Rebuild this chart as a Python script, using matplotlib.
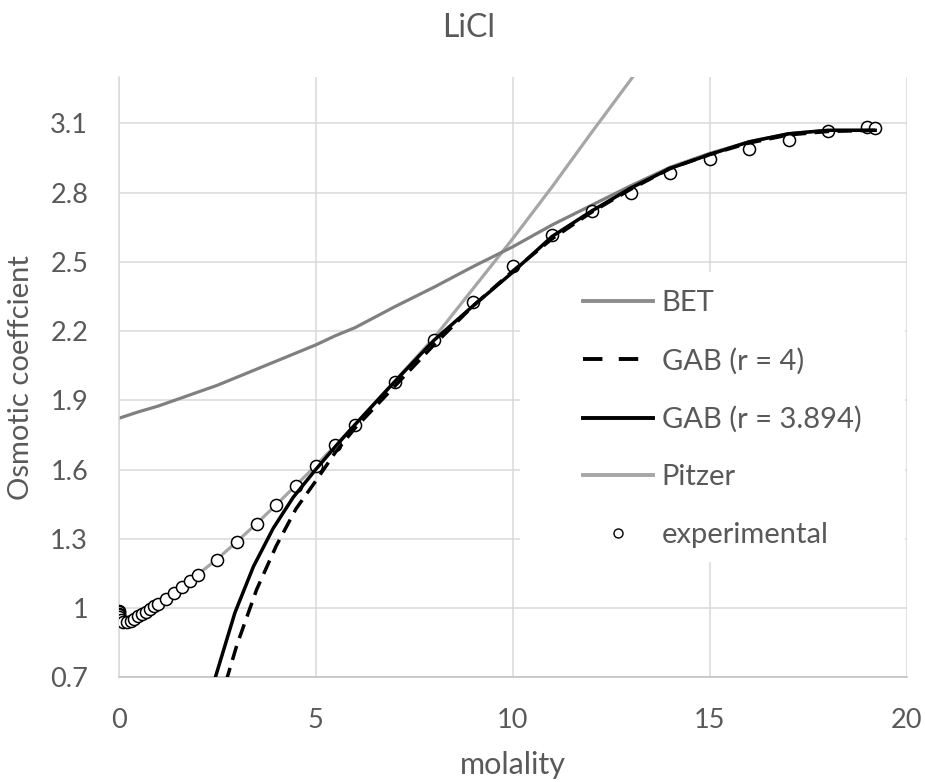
import matplotlib
matplotlib.use("Agg")
import matplotlib.pyplot as plt
from matplotlib.lines import Line2D
from matplotlib.patches import Rectangle

plt.rcParams['font.family'] = ['Lato', 'DejaVu Sans']

TEXT = '#595959'

# experimental osmotic coefficients of LiCl
exp_m = [0.001, 0.002, 0.005, 0.01, 0.02, 0.05, 0.1, 0.2, 0.3, 0.4, 0.5, 0.6, 0.7, 0.8, 0.9, 1.0,
         1.2, 1.4, 1.6, 1.8, 2.0, 2.5, 3.0, 3.5, 4.0, 4.5, 5.0, 5.5, 6.0, 7.0, 8.0, 9.0, 10.0,
         11.0, 12.0, 13.0, 14.0, 15.0, 16.0, 17.0, 18.0, 19.0, 19.2]
exp_phi = [0.988, 0.984, 0.976, 0.968, 0.960, 0.948, 0.940, 0.939, 0.945, 0.954, 0.964, 0.973, 0.984,
           0.995, 1.008, 1.018, 1.041, 1.066, 1.091, 1.117, 1.143, 1.210, 1.286, 1.366, 1.448, 1.530,
           1.615, 1.705, 1.793, 1.980, 2.160, 2.327, 2.480, 2.615, 2.720, 2.800, 2.885, 2.945, 2.990,
           3.030, 3.065, 3.085, 3.078]

# BET model
bet_m = [0, 0.5, 1, 1.5, 2, 2.5, 3, 3.5, 4, 4.5, 5, 5.5, 6, 7, 8, 9, 10, 11, 12, 13, 14, 15, 16, 17, 18, 19.2]
bet_phi = [1.822, 1.85, 1.875, 1.905, 1.935, 1.965, 2.0, 2.035, 2.07, 2.105, 2.14, 2.18, 2.215, 2.305,
           2.39, 2.48, 2.565, 2.66, 2.745, 2.83, 2.91, 2.97, 3.02, 3.055, 3.07, 3.07]

# GAB, r = 4
gab4_m = [2.72, 3.0, 3.5, 4.0, 4.5, 5.0, 5.5, 6.0, 7.0, 8.0, 9.0, 10.0, 11.0, 12.0, 13.0, 14.0, 15.0,
          16.0, 17.0, 18.0, 19.2]
gab4_phi = [0.68, 0.84, 1.08, 1.27, 1.43, 1.55, 1.675, 1.78, 1.96, 2.14, 2.31, 2.46, 2.60, 2.715, 2.815,
            2.905, 2.965, 3.015, 3.05, 3.065, 3.07]

# GAB, r = 3.894
gab_m = [2.4, 2.95, 3.42, 3.92, 4.43, 5.0, 5.5, 6.0, 7.0, 8.0, 9.0, 10.0, 11.0, 12.0, 13.0, 14.0, 15.0,
         16.0, 17.0, 18.0, 19.2]
gab_phi = [0.67, 0.98, 1.18, 1.345, 1.48, 1.60, 1.70, 1.795, 1.98, 2.16, 2.31, 2.455, 2.61, 2.72, 2.82,
           2.905, 2.965, 3.02, 3.055, 3.07, 3.07]

# Pitzer model
pitzer_m = [0.001, 0.01, 0.05, 0.1, 0.2, 0.5, 1.0, 1.5, 2.0, 2.5, 3.0, 3.5, 4.0, 4.5, 5.0, 5.5, 6.0,
            7.0, 8.0, 9.0, 10.0, 11.0, 12.0, 13.0, 13.2]
pitzer_phi = [0.988, 0.966, 0.946, 0.938, 0.937, 0.962, 1.02, 1.08, 1.145, 1.212, 1.288, 1.366, 1.448,
              1.532, 1.617, 1.705, 1.795, 1.982, 2.17, 2.385, 2.60, 2.825, 3.06, 3.29, 3.34]

fig = plt.figure(figsize=(9.25, 7.82), dpi=100)
ax = fig.add_axes([118.7 / 925, 104.7 / 782, 788 / 925, 600.1 / 782])

ax.plot(pitzer_m, pitzer_phi, color='#A6A6A6', lw=2.3, zorder=2, solid_capstyle='butt')
ax.plot(bet_m, bet_phi, color='#808080', lw=2.3, zorder=2.5)
ax.plot(exp_m, exp_phi, 'o', ms=8.7, mfc='white', mec='black', mew=1.1, zorder=3)
ax.plot(gab4_m, gab4_phi, color='black', lw=2.5, dashes=(4.2, 2.4), zorder=4)
ax.plot(gab_m, gab_phi, color='black', lw=2.5, zorder=4)

ax.set_xlim(0, 20)
ax.set_ylim(0.7, 3.3)
ax.set_xticks([0, 5, 10, 15, 20])
ax.set_yticks([0.7, 1.0, 1.3, 1.6, 1.9, 2.2, 2.5, 2.8, 3.1])
ax.set_yticklabels(['0.7', '1', '1.3', '1.6', '1.9', '2.2', '2.5', '2.8', '3.1'])
ax.tick_params(length=0, labelsize=19.5, labelcolor=TEXT)
ax.tick_params(axis='x', pad=22)
ax.tick_params(axis='y', pad=22)
ax.set_axisbelow(True)
ax.grid(True, color='#D9D9D9', lw=1.1)
for s in ['top', 'right']:
    ax.spines[s].set_visible(False)
ax.spines['left'].set_color('#D9D9D9')
ax.spines['bottom'].set_color('#BFBFBF')
ax.spines['left'].set_linewidth(1.1)
ax.spines['bottom'].set_linewidth(1.1)

# white box behind the legend
ax.add_patch(Rectangle((0.509, 0.192), 0.489, 0.483, transform=ax.transAxes,
                       facecolor='white', edgecolor='none', zorder=1))

handles = [
    Line2D([], [], color='#8C8C8C', lw=2.8),
    Line2D([], [], color='black', lw=2.8, dashes=(5.0, 4.2)),
    Line2D([], [], color='black', lw=2.8),
    Line2D([], [], color='#A6A6A6', lw=2.8),
    Line2D([], [], ls='none', marker='o', ms=6.5, mfc='white', mec='black', mew=1.0),
]
labels = ['BET', 'GAB (r = 4)', 'GAB (r = 3.894)', 'Pitzer', 'experimental']
leg = ax.legend(handles, labels, loc='upper left', bbox_to_anchor=(583 / 925, 1 - 290 / 782),
                bbox_transform=fig.transFigure, frameon=False, fontsize=21, labelcolor=TEXT,
                handlelength=2.4, handletextpad=0.3, labelspacing=1.08, borderpad=0, borderaxespad=0)
leg.set_zorder(6)

fig.text(469 / 925, 1 - 28 / 782, 'LiCl', ha='center', va='center', fontsize=23, color=TEXT)
fig.text(512.7 / 925, 1 - 765 / 782, 'molality', ha='center', va='center', fontsize=22, color=TEXT)
fig.text(21 / 925, 1 - 378 / 782, 'Osmotic coeffcient', ha='center', va='center', rotation=90,
         fontsize=21, color=TEXT)

fig.savefig('out.png', dpi=100)
